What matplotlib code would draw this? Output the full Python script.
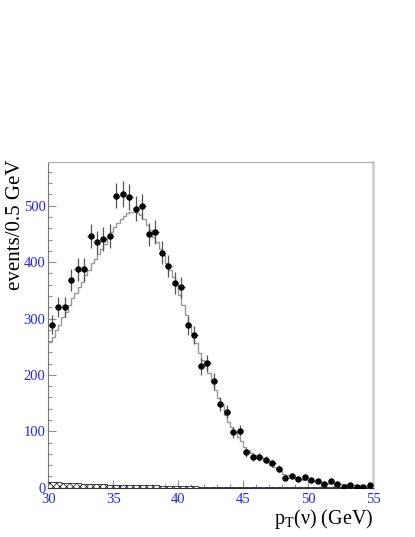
import numpy as np
import matplotlib
matplotlib.use("Agg")
import matplotlib.pyplot as plt
from matplotlib.ticker import MultipleLocator

# ---------------- data ----------------
data_edges_lo = 30.0
data_edges_hi = 55.0
data_counts = [289, 321, 321, 368, 387, 387, 446, 435, 441, 446,
               518, 521, 515, 495, 499, 449, 453, 417, 393, 363,
               355, 288, 271, 215, 221, 189, 148, 135, 98, 101,
               63, 54, 54, 50, 43, 34, 18, 21, 16, 19,
               13, 12, 7, 12, 7, 2, 5, 2, 2, 5]

mc_counts = [259, 268, 280, 288, 303, 312, 324, 336, 345, 356,
             365, 377, 386, 398, 405, 414, 424, 433, 445, 454,
             463, 470, 476, 482, 487, 488, 488, 487, 484, 476,
             466, 457, 445, 436, 424, 413, 398, 386, 374, 359,
             342, 324, 306, 291, 274, 256, 238, 226, 215, 203,
             188, 173, 159, 144, 129, 117, 108, 99, 90, 82,
             73, 67, 62, 58, 55, 52, 48, 45, 41, 37,
             33, 29, 25, 22, 20, 18, 16, 15, 14, 13,
             12, 11, 10, 10, 9, 9, 8, 8, 7, 7,
             6, 6, 5, 5, 4, 4, 4, 3, 3, 3]

bkg_counts = [10, 10, 9, 8, 8, 7, 6, 6, 6, 5,
              5, 5, 4, 4, 4, 4, 4, 3, 3, 3,
              3, 3, 3, 2, 2, 2, 2, 2, 2, 2,
              2, 2, 1, 1, 1, 1, 1, 1, 1, 1,
              1, 1, 1, 1, 1, 1, 1, 1, 1, 1]

x_ticks = [30, 35, 40, 45, 50, 55]
y_ticks = [0, 100, 200, 300, 400, 500]
y_label = "events/0.5 GeV"
x_label = r"p$_{\mathrm{T}}$(ν) (GeV)"

# ---------------- style ----------------
plt.rcParams['font.family'] = ['Liberation Serif', 'DejaVu Serif']
plt.rcParams['mathtext.fontset'] = 'custom'
plt.rcParams['mathtext.rm'] = 'Liberation Serif'
plt.rcParams['mathtext.it'] = 'Liberation Serif:italic'
plt.rcParams['hatch.linewidth'] = 0.5

fig = plt.figure(figsize=(4.15, 5.37), dpi=100)
ax = fig.add_axes([48.3/415, 1-487.7/537, (373-48.3)/415, (487.7-162.3)/537])

data_edges = np.linspace(data_edges_lo, data_edges_hi, len(data_counts)+1)
mc_edges = np.linspace(data_edges_lo, data_edges_hi, len(mc_counts)+1)
bkg_edges = np.linspace(data_edges_lo, data_edges_hi, len(bkg_counts)+1)

ax.stairs(bkg_counts, bkg_edges, fill=True, facecolor='white', edgecolor='black',
          hatch='xxxxx', linewidth=0.5, zorder=2)
ax.stairs(mc_counts, mc_edges, color='#999999', linewidth=1.0, baseline=None, zorder=3)

centers = 0.5*(data_edges[:-1]+data_edges[1:])
d = np.array(data_counts, dtype=float)
ax.errorbar(centers, d, yerr=np.sqrt(d), xerr=0.25, fmt='o', color='black',
            ecolor='#555555', elinewidth=0.9, markersize=3.6, capsize=0, zorder=4)

ax.set_xlim(30, 55)
ax.set_ylim(0, 577)
ax.set_xticks(x_ticks)
ax.set_yticks(y_ticks)
ax.xaxis.set_minor_locator(MultipleLocator(1))
ax.yaxis.set_minor_locator(MultipleLocator(20))
tickcol = '#8888cc'
ax.tick_params(axis='both', which='major', direction='in', length=6, width=0.8,
               color=tickcol, labelcolor='#2222ff', labelsize=10.5)
ax.tick_params(axis='both', which='minor', direction='in', length=3, width=0.8,
               color=tickcol)
ax.tick_params(axis='x', pad=4)
ax.tick_params(axis='y', pad=2)

ax.spines['left'].set_color('#777777')
ax.spines['bottom'].set_color('#333333')
ax.spines['top'].set_color('#aaaaaa')
ax.spines['right'].set_color('#d0d0d0')
ax.spines['right'].set_linewidth(2.0)

fig.text(15/415, 1-160/537, y_label, rotation=90, ha='center', va='top', fontsize=15)
fig.text(373/415, 1-524/537, x_label, ha='right', va='baseline', fontsize=14.5)

fig.savefig('out.png', dpi=100)
